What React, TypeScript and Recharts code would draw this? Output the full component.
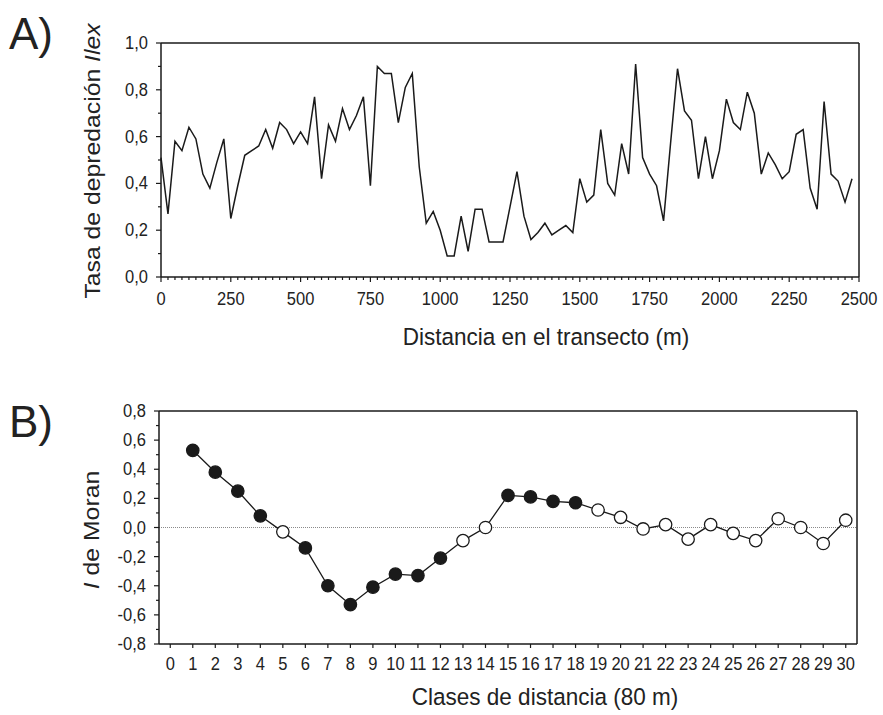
import React from "react";
import { LineChart, Line, XAxis, YAxis, ReferenceLine } from "recharts";

const FONT = "'Liberation Sans', Arial, sans-serif";
const INK = "#1a1a1a";
const STRETCH = 1.1; // la figura original está algo estirada en vertical

// A) tasa de depredación a lo largo del transecto (cada 25 m)
const distancias = [
  0, 25, 50, 75, 100, 125, 150, 175, 200, 225, 250, 275, 300, 325, 350, 375, 400, 425, 450, 475,
  500, 525, 550, 575, 600, 625, 650, 675, 700, 725, 750, 775, 800, 825, 850, 875, 900, 925, 950, 975,
  1000, 1025, 1050, 1075, 1100, 1125, 1150, 1175, 1200, 1225, 1250, 1275, 1300, 1325, 1350, 1375, 1400, 1425, 1450, 1475,
  1500, 1525, 1550, 1575, 1600, 1625, 1650, 1675, 1700, 1725, 1750, 1775, 1800, 1825, 1850, 1875, 1900, 1925, 1950, 1975,
  2000, 2025, 2050, 2075, 2100, 2125, 2150, 2175, 2200, 2225, 2250, 2275, 2300, 2325, 2350, 2375, 2400, 2425, 2450, 2475,
];
const tasa = [
  0.51, 0.27, 0.58, 0.54, 0.64, 0.59, 0.44, 0.38, 0.49, 0.59, 0.25, 0.39, 0.52, 0.54, 0.56, 0.63, 0.55, 0.66, 0.63, 0.57,
  0.62, 0.57, 0.77, 0.42, 0.65, 0.58, 0.72, 0.63, 0.69, 0.77, 0.39, 0.9, 0.87, 0.87, 0.66, 0.81, 0.87, 0.47, 0.23, 0.28,
  0.2, 0.09, 0.09, 0.26, 0.11, 0.29, 0.29, 0.15, 0.15, 0.15, 0.3, 0.45, 0.26, 0.16, 0.19, 0.23, 0.18, 0.2, 0.22, 0.19,
  0.42, 0.32, 0.35, 0.63, 0.4, 0.35, 0.57, 0.44, 0.91, 0.51, 0.44, 0.39, 0.24, 0.57, 0.89, 0.71, 0.67, 0.42, 0.6, 0.42,
  0.54, 0.76, 0.66, 0.63, 0.79, 0.7, 0.44, 0.53, 0.48, 0.42, 0.45, 0.61, 0.63, 0.38, 0.29, 0.75, 0.44, 0.41, 0.32, 0.42,
];
const ticksDistMayor = [0, 250, 500, 750, 1000, 1250, 1500, 1750, 2000, 2250, 2500];
const ticksTasa = [0, 0.1, 0.2, 0.3, 0.4, 0.5, 0.6, 0.7, 0.8, 0.9, 1.0];

// B) correlograma de Moran
const clases = [1, 2, 3, 4, 5, 6, 7, 8, 9, 10, 11, 12, 13, 14, 15, 16, 17, 18, 19, 20, 21, 22, 23, 24, 25, 26, 27, 28, 29, 30];
const moran = [
  0.53, 0.38, 0.25, 0.08, -0.03, -0.14, -0.4, -0.53, -0.41, -0.32, -0.33, -0.21, -0.09, 0.0, 0.22,
  0.21, 0.18, 0.17, 0.12, 0.07, -0.01, 0.02, -0.08, 0.02, -0.04, -0.09, 0.06, 0.0, -0.11, 0.05,
];
const significativo = [
  true, true, true, true, false, true, true, true, true, true, true, true, false, false, true,
  true, true, true, false, false, false, false, false, false, false, false, false, false, false, false,
];
const ticksClase = [0, 1, 2, 3, 4, 5, 6, 7, 8, 9, 10, 11, 12, 13, 14, 15, 16, 17, 18, 19, 20, 21, 22, 23, 24, 25, 26, 27, 28, 29, 30];
const ticksMoran = [-0.8, -0.7, -0.6, -0.5, -0.4, -0.3, -0.2, -0.1, 0, 0.1, 0.2, 0.3, 0.4, 0.5, 0.6, 0.7, 0.8];

const dataA = distancias.map((d, i) => ({ d, tasa: tasa[i] }));
const dataB = clases.map((c, i) => ({ c, moran: moran[i], sig: significativo[i] }));

const coma = (v: number) => v.toFixed(1).replace(".", ",");
const esPar = (v: number) => Math.round(v * 10) % 2 === 0;

function Etiqueta({ x, y, anchor, children }: { x: number; y: number; anchor: "end" | "middle"; children: React.ReactNode }) {
  return (
    <g transform={`translate(${x},${y}) scale(1,${STRETCH})`}>
      <text x={0} y={0} textAnchor={anchor} fontSize={16.5} fontFamily={FONT} fill="#222">
        {children}
      </text>
    </g>
  );
}

function tickIzq(props: any) {
  const { x, y, payload } = props;
  const mayor = esPar(payload.value);
  return (
    <g>
      <line x1={x} x2={x - (mayor ? 5 : 3)} y1={y} y2={y} stroke={INK} strokeWidth={1.2} />
      {mayor && (
        <Etiqueta x={x - 13} y={y + 6} anchor="end">
          {coma(payload.value)}
        </Etiqueta>
      )}
    </g>
  );
}

function tickDist(props: any) {
  const { x, y, payload } = props;
  const mayor = ticksDistMayor.includes(payload.value);
  return (
    <g>
      <line x1={x} x2={x} y1={y} y2={y + (mayor ? 5 : 3)} stroke={INK} strokeWidth={1.2} />
      {mayor && (
        <Etiqueta x={x} y={y + 28} anchor="middle">
          {payload.value}
        </Etiqueta>
      )}
    </g>
  );
}

function tickClase(props: any) {
  const { x, y, payload } = props;
  return (
    <g>
      <line x1={x} x2={x} y1={y} y2={y + 4} stroke={INK} strokeWidth={1.2} />
      <Etiqueta x={x} y={y + 26} anchor="middle">
        {payload.value}
      </Etiqueta>
    </g>
  );
}

function puntoMoran(props: any) {
  const { cx, cy, payload, index } = props;
  return (
    <circle key={`p${index}`} cx={cx} cy={cy} r={6.2} fill={payload.sig ? INK : "#fff"} stroke={INK} strokeWidth={1.3} />
  );
}

const titulo: React.CSSProperties = {
  position: "absolute",
  fontFamily: FONT,
  fontSize: 22.5,
  lineHeight: 1,
  color: "#222",
  whiteSpace: "nowrap",
};

export default function App() {
  return (
    <div style={{ position: "absolute", left: 0, top: 0, width: 883, height: 715, background: "#fff" }}>
      <div style={{ ...titulo, left: 9, top: 12, fontSize: 44 }}>A)</div>
      <div style={{ ...titulo, left: 9, top: 400, fontSize: 44 }}>B)</div>

      <div style={{ ...titulo, left: 93, top: 161, transform: `translate(-50%, -50%) rotate(-90deg) scale(${STRETCH}, 1)` }}>
        Tasa de depredación <i>Ilex</i>
      </div>
      <div style={{ ...titulo, left: 546, top: 338, transform: `translate(-50%, -50%) scale(1, ${STRETCH})` }}>
        Distancia en el transecto (m)
      </div>
      <div style={{ ...titulo, left: 92, top: 530, transform: `translate(-50%, -50%) rotate(-90deg) scale(${STRETCH}, 1)` }}>
        <i>I</i> de Moran
      </div>
      <div style={{ ...titulo, left: 545, top: 698, transform: `translate(-50%, -50%) scale(1, ${STRETCH})` }}>
        Clases de distancia (80 m)
      </div>

      <div style={{ position: "absolute", left: 0, top: 0 }}>
        <LineChart width={883} height={330} data={dataA} margin={{ top: 43, right: 24, bottom: 52, left: 160 }}>
          <XAxis
            dataKey="d"
            type="number"
            domain={[0, 2500]}
            ticks={[...distancias, 2500]}
            interval={0}
            height={1}
            tickSize={0}
            tickMargin={0}
            tickLine={false}
            tick={tickDist}
            axisLine={{ stroke: INK, strokeWidth: 1.5 }}
          />
          <YAxis
            type="number"
            domain={[0, 1]}
            ticks={ticksTasa}
            interval={0}
            width={1}
            tickSize={0}
            tickMargin={0}
            tickLine={false}
            tick={tickIzq}
            axisLine={{ stroke: INK, strokeWidth: 1.5 }}
          />
          <ReferenceLine y={1} stroke={INK} strokeWidth={1.5} />
          <ReferenceLine x={2500} stroke={INK} strokeWidth={1.5} />
          <Line type="linear" dataKey="tasa" stroke={INK} strokeWidth={1.5} dot={false} isAnimationActive={false} />
        </LineChart>
      </div>

      <div style={{ position: "absolute", left: 0, top: 360 }}>
        <LineChart width={883} height={355} data={dataB} margin={{ top: 51, right: 26, bottom: 70, left: 158 }}>
          <XAxis
            dataKey="c"
            type="number"
            domain={[-0.5, 30.5]}
            ticks={ticksClase}
            interval={0}
            height={1}
            tickSize={0}
            tickMargin={0}
            tickLine={false}
            tick={tickClase}
            axisLine={{ stroke: INK, strokeWidth: 1.5 }}
          />
          <YAxis
            type="number"
            domain={[-0.8, 0.8]}
            ticks={ticksMoran}
            interval={0}
            width={1}
            tickSize={0}
            tickMargin={0}
            tickLine={false}
            tick={tickIzq}
            axisLine={{ stroke: INK, strokeWidth: 1.5 }}
          />
          <ReferenceLine y={0.8} stroke={INK} strokeWidth={1.5} />
          <ReferenceLine x={30.5} stroke={INK} strokeWidth={1.5} />
          <ReferenceLine y={0} stroke="#8a8a8a" strokeWidth={1} strokeDasharray="1 1" />
          <Line
            type="linear"
            dataKey="moran"
            stroke={INK}
            strokeWidth={1.3}
            dot={puntoMoran}
            isAnimationActive={false}
          />
        </LineChart>
      </div>
    </div>
  );
}
